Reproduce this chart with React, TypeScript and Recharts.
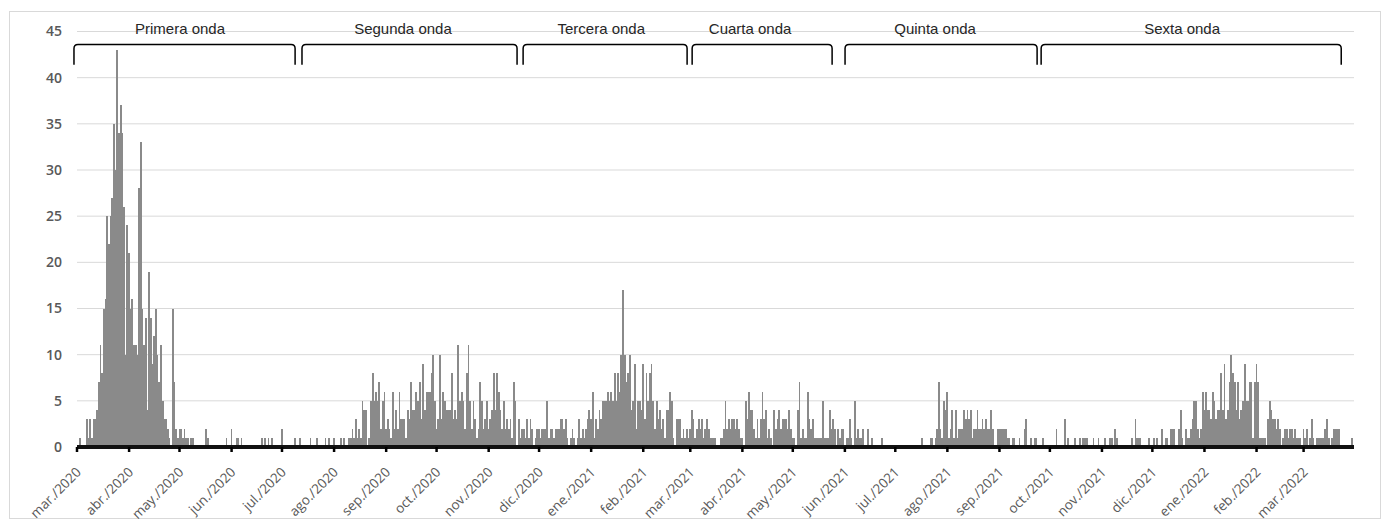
import React from 'react';
import { BarChart, Bar, XAxis, YAxis, CartesianGrid, ReferenceArea } from 'recharts';

// month ticks (day index from 1 mar 2020)
const monthStarts = [0, 31, 61, 92, 122, 153, 184, 214, 245, 275, 306, 337, 365, 396, 426, 457, 487, 518, 549, 579, 610, 640, 671, 702, 730];
const monthLabels = [
  'mar./2020', 'abr./2020', 'may./2020', 'jun./2020', 'jul./2020', 'ago./2020', 'sep./2020', 'oct./2020',
  'nov./2020', 'dic./2020', 'ene./2021', 'feb./2021', 'mar./2021', 'abr./2021', 'may./2021', 'jun./2021',
  'jul./2021', 'ago./2021', 'sep./2021', 'oct./2021', 'nov./2021', 'dic./2021', 'ene./2022', 'feb./2022', 'mar./2022',
];

// daily values, one array per month
const mar2020 = [0, 0, 1, 0, 0, 0, 3, 1, 3, 1, 3, 3, 4, 7, 11, 8, 15, 16, 25, 22, 25, 27, 35, 30, 43, 34, 37, 34, 26, 10, 24];
const abr2020 = [21, 15, 16, 11, 11, 10, 28, 33, 15, 11, 14, 4, 19, 14, 9, 12, 15, 10, 7, 11, 5, 3, 3, 2, 1, 0, 15, 7, 2, 1];
const may2020 = [2, 2, 1, 2, 1, 1, 0, 1, 1, 0, 0, 0, 0, 0, 0, 0, 2, 1, 0, 0, 0, 0, 0, 0, 0, 0, 0, 0, 1, 0, 0];
const jun2020 = [2, 0, 0, 1, 1, 0, 1, 0, 0, 0, 0, 0, 0, 0, 0, 0, 0, 0, 1, 0, 1, 0, 1, 0, 1, 0, 0, 0, 0, 0];
const jul2020 = [2, 0, 0, 0, 0, 0, 0, 0, 1, 0, 0, 1, 0, 0, 0, 0, 0, 1, 0, 0, 0, 1, 0, 0, 0, 0, 1, 0, 1, 0, 0];
const ago2020 = [1, 0, 0, 0, 1, 0, 1, 0, 0, 1, 1, 2, 1, 3, 1, 2, 1, 5, 4, 4, 0, 1, 5, 8, 5, 6, 5, 7, 2, 5, 6];
const sep2020 = [2, 3, 2, 1, 6, 2, 4, 2, 6, 3, 3, 3, 1, 4, 3, 7, 4, 4, 6, 5, 7, 3, 9, 4, 6, 6, 6, 8, 10, 5];
const oct2020 = [2, 3, 10, 3, 6, 5, 4, 4, 4, 8, 3, 4, 3, 11, 5, 6, 5, 2, 8, 11, 5, 2, 5, 3, 1, 2, 7, 5, 2, 3, 5];
const nov2020 = [2, 3, 4, 8, 4, 8, 6, 4, 2, 5, 2, 3, 2, 3, 1, 7, 5, 0, 3, 1, 2, 2, 1, 3, 1, 3, 2, 0, 1, 2];
const dic2020 = [2, 1, 2, 2, 2, 5, 1, 2, 2, 1, 2, 2, 2, 3, 3, 2, 3, 1, 0, 1, 2, 1, 0, 1, 3, 1, 2, 1, 2, 3, 4];
const ene2021 = [3, 6, 1, 3, 2, 4, 3, 5, 5, 5, 6, 5, 6, 5, 8, 5, 8, 6, 10, 17, 10, 7, 8, 10, 4, 5, 9, 2, 5, 5, 4];
const feb2021 = [9, 3, 8, 5, 8, 9, 5, 2, 5, 3, 4, 2, 3, 1, 4, 4, 6, 5, 1, 0, 3, 3, 3, 1, 2, 1, 2, 1];
const mar2021 = [2, 4, 3, 1, 2, 3, 2, 3, 1, 2, 3, 2, 1, 1, 1, 1, 0, 0, 1, 1, 2, 5, 2, 3, 2, 3, 3, 2, 3, 2, 1];
const abr2021 = [1, 0, 5, 3, 6, 4, 4, 2, 1, 3, 1, 3, 6, 3, 4, 1, 2, 1, 0, 4, 2, 3, 4, 2, 3, 3, 3, 2, 4, 2];
const may2021 = [1, 1, 0, 4, 7, 1, 2, 1, 1, 6, 3, 2, 3, 1, 1, 1, 1, 1, 5, 1, 1, 1, 4, 2, 3, 2, 0, 2, 1, 2, 2];
const jun2021 = [0, 1, 1, 3, 1, 0, 5, 1, 2, 1, 1, 2, 0, 0, 2, 0, 1, 0, 0, 0, 0, 0, 1, 0, 0, 0, 0, 0, 0, 0];
const jul2021 = [0, 0, 0, 0, 0, 0, 0, 0, 0, 0, 0, 0, 0, 0, 0, 0, 1, 0, 0, 0, 0, 1, 1, 0, 1, 2, 7, 2, 1, 5, 4];
const ago2021 = [6, 1, 2, 4, 1, 4, 1, 2, 2, 2, 4, 3, 4, 3, 4, 1, 2, 2, 4, 2, 2, 3, 2, 3, 2, 2, 4, 2, 0, 0, 2];
const sep2021 = [2, 2, 2, 2, 2, 1, 1, 0, 1, 1, 0, 0, 1, 0, 0, 2, 3, 0, 0, 1, 0, 1, 1, 0, 0, 0, 1, 0, 0, 0];
const oct2021 = [0, 0, 0, 0, 2, 0, 0, 0, 0, 3, 0, 1, 0, 0, 0, 1, 0, 0, 1, 0, 1, 1, 1, 0, 0, 0, 1, 0, 0, 1, 0];
const nov2021 = [0, 0, 1, 0, 0, 1, 1, 0, 2, 1, 0, 0, 0, 0, 0, 0, 0, 0, 1, 0, 3, 1, 1, 1, 0, 0, 0, 0, 1, 0];
const dic2021 = [0, 1, 0, 1, 0, 0, 2, 0, 1, 1, 0, 2, 2, 2, 0, 0, 2, 4, 1, 0, 2, 1, 1, 2, 3, 5, 5, 2, 1, 2, 6];
const ene2022 = [4, 6, 4, 4, 3, 6, 5, 3, 4, 4, 8, 4, 9, 3, 4, 7, 10, 8, 7, 4, 7, 3, 4, 5, 9, 5, 5, 7, 7, 1, 7];
const feb2022 = [9, 7, 1, 1, 1, 1, 0, 3, 5, 4, 3, 3, 2, 3, 2, 0, 1, 2, 2, 1, 2, 2, 1, 2, 1, 1, 1, 0];
const mar2022 = [2, 1, 2, 0, 1, 3, 1, 0, 1, 1, 1, 1, 1, 2, 3, 1, 0, 1, 2, 2, 2, 2, 0, 0, 0, 0, 0, 0, 0, 1, 0];

const dailyCounts = [
  ...mar2020, ...abr2020, ...may2020, ...jun2020, ...jul2020, ...ago2020, ...sep2020, ...oct2020,
  ...nov2020, ...dic2020, ...ene2021, ...feb2021, ...mar2021, ...abr2021, ...may2021, ...jun2021,
  ...jul2021, ...ago2021, ...sep2021, ...oct2021, ...nov2021, ...dic2021, ...ene2022, ...feb2022, ...mar2022,
];

// waves (brackets along the top), in day index
const waveNames = ['Primera onda', 'Segunda onda', 'Tercera onda', 'Cuarta onda', 'Quinta onda', 'Sexta onda'];
const waveStart = [-1.8, 133.9, 265.5, 366.1, 457.1, 573.8];
const waveEnd = [129.8, 261.9, 363.1, 449.4, 571.4, 752.4];
const waveLabelAt = [61.3, 194, 312, 400.6, 510.7, 657.7];

const yTicks = [0, 5, 10, 15, 20, 25, 30, 35, 40, 45];

const data = dailyCounts.map((value, day) => ({ day, value }));

const BAR_W = 1.8;

// crisp bars a touch wider than the band so dense runs read as solid grey
const DayBar = (p: any) => {
  const { x, y, width, height } = p;
  if (!height || height <= 0) return <g />;
  return (
    <rect
      x={x + width / 2 - BAR_W / 2}
      y={y}
      width={BAR_W}
      height={height}
      fill="#8a8a8a"
      shapeRendering="crispEdges"
    />
  );
};

const MonthTick = (props: any) => {
  const { x, y, payload } = props;
  const idx = monthStarts.indexOf(payload.value);
  return (
    <text
      transform={`translate(${x + 5},${y + 19}) rotate(-45)`}
      textAnchor="end"
      fontSize={13.5}
      fontFamily="'Open Sans', sans-serif"
      fill="#595959"
    >
      {monthLabels[idx]}
    </text>
  );
};

const makeBracket = (i: number) => (p: any) => {
  const { x, y, width, height } = p;
  const r = 4;
  const frac = (waveLabelAt[i] - waveStart[i]) / (waveEnd[i] - waveStart[i]);
  const d = `M${x},${y + height} L${x},${y + r} Q${x},${y} ${x + r},${y} L${x + width - r},${y} Q${x + width},${y} ${x + width},${y + r} L${x + width},${y + height}`;
  return (
    <g>
      <path d={d} fill="none" stroke="#000" strokeWidth={1.5} />
      <text
        x={x + width * frac}
        y={y - 10.5}
        textAnchor="middle"
        fontSize={15}
        fontFamily="'Liberation Sans', Arial, sans-serif"
        fill="#262626"
      >
        {waveNames[i]}
      </text>
    </g>
  );
};

export default function App() {
  return (
    <div style={{ position: 'absolute', left: 0, top: 0, width: 1389, height: 525, background: '#fff' }}>
      <div
        style={{
          position: 'absolute',
          left: 9,
          top: 11,
          width: 1372,
          height: 508,
          border: '1px solid #d9d9d9',
          boxSizing: 'border-box',
        }}
      />
      <div style={{ position: 'absolute', left: 0, top: 0 }}>
        <BarChart
          width={1389}
          height={525}
          data={data}
          margin={{ top: 31.5, right: 35, bottom: 8, left: 0 }}
          barCategoryGap={0}
        >
          <CartesianGrid vertical={false} stroke="#d9d9d9" strokeWidth={1} />
          <XAxis
            type="number"
            dataKey="day"
            domain={[0, 760]}
            ticks={monthStarts}
            interval={0}
            height={70}
            tick={<MonthTick />}
            tickSize={5}
            tickLine={{ stroke: '#000', strokeWidth: 2.5 }}
            axisLine={{ stroke: '#111', strokeWidth: 4 }}
          />
          <YAxis
            type="number"
            domain={[0, 45]}
            ticks={yTicks}
            interval={0}
            width={77}
            axisLine={false}
            tickLine={false}
            tickMargin={9}
            tick={{ fontSize: 14, fontWeight: 600, fill: '#595959', fontFamily: "'Open Sans', sans-serif" }}
          />
          <Bar dataKey="value" fill="#8a8a8a" barSize={1.8} shape={<DayBar />} isAnimationActive={false} />
          {waveNames.map((name, i) => (
            <ReferenceArea
              key={name}
              x1={waveStart[i]}
              x2={waveEnd[i]}
              y1={41.4}
              y2={43.6}
              ifOverflow="visible"
              shape={makeBracket(i)}
            />
          ))}
        </BarChart>
      </div>
    </div>
  );
}
